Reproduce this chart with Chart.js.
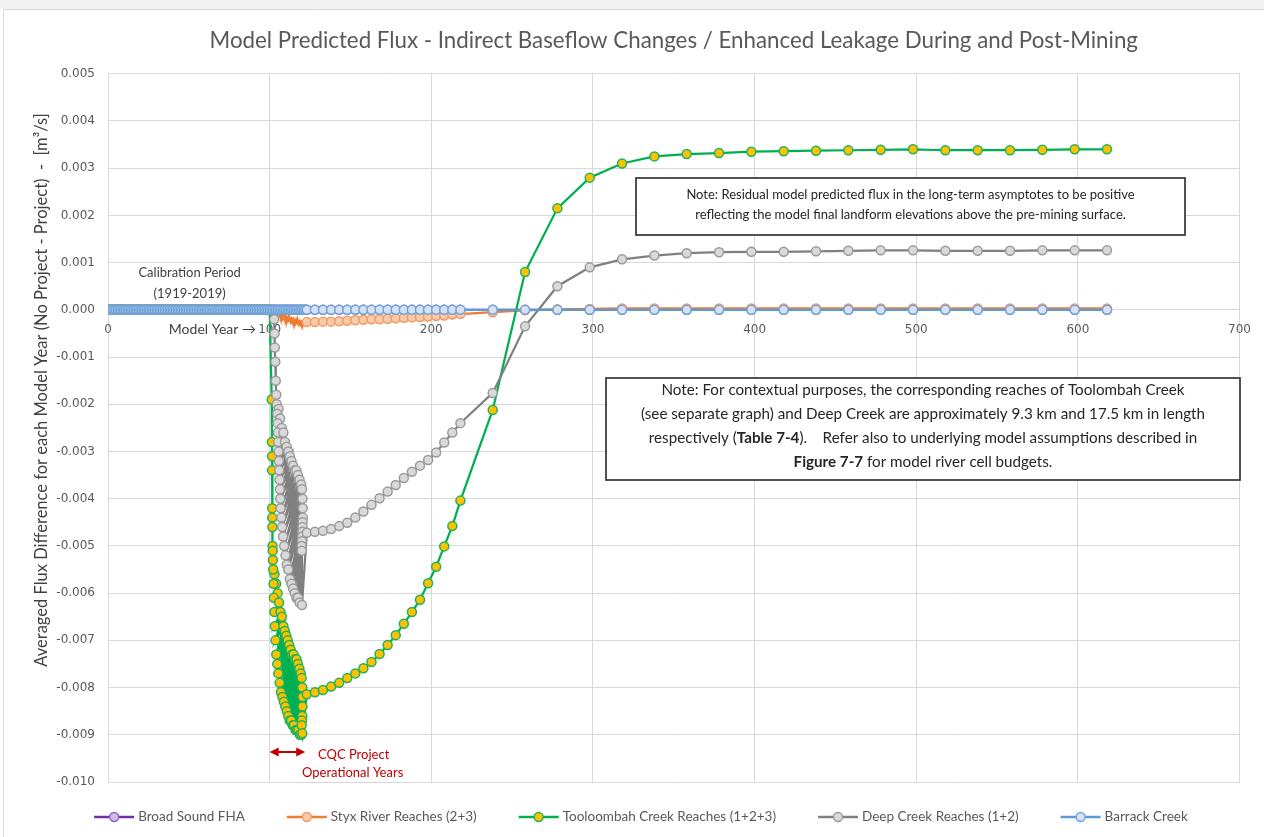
<!DOCTYPE html>
<html>
<head>
<meta charset="utf-8">
<title>Model Predicted Flux</title>
<script src="https://cdn.jsdelivr.net/npm/chart.js@4.4.1/dist/chart.umd.min.js"></script>
<style>
  html, body { margin: 0; padding: 0; background: #ffffff; overflow: hidden; }
  #wrap { width: 1264px; height: 837px; position: relative; }
</style>
</head>
<body>
<div id="wrap"><canvas id="chart" width="1264" height="837"></canvas></div>
<script>
// ---- Series names -------------------------------------------------------
const seriesNames = [
  'Broad Sound FHA',
  'Styx River Reaches (2+3)',
  'Tooloombah Creek Reaches (1+2+3)',
  'Deep Creek Reaches (1+2)',
  'Barrack Creek'
];

// ---- Calibration period (model years 0-100, 1919-2019): no difference ----
const calibrationYears = [
  0,1,2,3,4,5,6,7,8,9,10,11,12,13,14,15,16,17,18,19,
  20,21,22,23,24,25,26,27,28,29,30,31,32,33,34,35,36,37,38,39,
  40,41,42,43,44,45,46,47,48,49,50,51,52,53,54,55,56,57,58,59,
  60,61,62,63,64,65,66,67,68,69,70,71,72,73,74,75,76,77,78,79,
  80,81,82,83,84,85,86,87,88,89,90,91,92,93,94,95,96,97,98,99,100
];
const calibrationFlux = [
  0,0,0,0,0,0,0,0,0,0,0,0,0,0,0,0,0,0,0,0,
  0,0,0,0,0,0,0,0,0,0,0,0,0,0,0,0,0,0,0,0,
  0,0,0,0,0,0,0,0,0,0,0,0,0,0,0,0,0,0,0,0,
  0,0,0,0,0,0,0,0,0,0,0,0,0,0,0,0,0,0,0,0,
  0,0,0,0,0,0,0,0,0,0,0,0,0,0,0,0,0,0,0,0,0
];

// ---- Operational years (model output steps, 101-122) ---------------------
const operationYears = [101,102,103,104,105,106,107,108,109,110,111,112,113,114,115,116,117,118,119,120,121,122];
const broadSoundOperationFlux = [0,0,0,0,0,0,0,0,0,0,0,0,0,0,0,0,0,0,0,0,0,0];
const barrackOperationFlux    = [0,0,0,0,0,0,0,0,0,0,0,0,0,0,0,0,0,0,0,0,0,0];

const styxOperationYears = [
  101,102,103,103.5,104,104.5,105,105.5,106,106.5,107,107.5,108,108.5,109,109.5,110,110.5,
  111,111.5,112,112.5,113,113.5,114,114.5,115,115.5,116,116.5,117,117.5,118,118.5,119,119.5,
  120,120.5,121,121.5,122
];
const styxOperationFlux = [
  0,-0.00001,-0.00003,-0.00001,-0.00006,-0.00003,-0.00009,-0.00005,-0.00012,-0.00008,-0.00015,-0.0001,
  -0.00017,-0.00012,-0.00019,-0.00014,-0.00021,-0.00016,-0.00022,-0.00017,-0.00024,-0.00019,
  -0.00025,-0.0002,-0.00026,-0.00021,-0.00027,-0.00022,-0.00028,-0.00023,-0.00029,-0.00024,
  -0.0003,-0.00025,-0.0003,-0.00026,-0.00031,-0.00027,-0.00031,-0.00028,-0.0003
];

const tooloombahOperationYears = [
  101.3,101.4,101.5,101.5,101.6,101.6,101.7,101.8,101.9,102.0,
  103.0,102.2,104.0,102.4,104.9,102.6,105.8,102.9,106.7,103.2,107.6,103.6,108.5,104.1,
  109.4,104.7,110.3,105.4,111.2,106.2,112.1,107.0,113.0,107.9,113.9,108.8,114.8,109.7,
  115.7,110.6,116.6,111.5,117.5,112.4,118.4,113.3,119.2,114.2,119.8,115.1,120.2,116.0,
  120.3,116.9,120.3,117.8,120.2,118.7,120.0,119.6,119.8,120.2
];
const tooloombahOperationFlux = [
  -0.0019,-0.0028,-0.0031,-0.0034,-0.0042,-0.0044,-0.0046,-0.005,-0.0051,-0.0053,
  -0.0056,-0.0055,-0.0058,-0.0058,-0.006,-0.0061,-0.0062,-0.0064,-0.0064,-0.0067,-0.0065,-0.007,
  -0.0067,-0.0073,-0.0068,-0.0075,-0.0069,-0.0077,-0.007,-0.0079,-0.0071,-0.0081,-0.0072,-0.0082,
  -0.0073,-0.0083,-0.0073,-0.0084,-0.0074,-0.0085,-0.0074,-0.0086,-0.0075,-0.0087,-0.0076,-0.0087,
  -0.0077,-0.0088,-0.0078,-0.0088,-0.008,-0.0089,-0.0082,-0.0089,-0.0084,-0.0089,-0.0086,-0.009,
  -0.0087,-0.009,-0.0088,-0.00897
];

const deepOperationYears = [
  102.8,103.0,103.2,103.5,103.8,104.1,104.4,
  105.5,104.7,106.5,104.9,107.5,105.1,108.5,105.3,109.5,105.5,110.5,105.7,111.5,105.9,
  112.5,106.1,113.5,106.3,114.5,106.5,115.5,106.8,116.5,107.2,117.5,107.7,118.5,108.3,
  119.5,109.0,120.0,109.8,120.3,110.6,120.5,111.5,120.5,112.5,120.4,113.5,120.3,114.5,
  120.2,115.5,120.1,116.5,120.0,117.5,119.8,118.5,119.9,120.0
];
const deepOperationFlux = [
  -0.0002,-0.0005,-0.0008,-0.0011,-0.0015,-0.0018,-0.002,
  -0.0021,-0.0022,-0.0023,-0.0024,-0.0025,-0.0026,-0.0026,-0.0028,-0.0028,-0.003,-0.0029,-0.0032,
  -0.003,-0.0034,-0.0031,-0.0036,-0.0032,-0.0038,-0.0033,-0.004,-0.0034,-0.0042,-0.0034,-0.0044,
  -0.0035,-0.0046,-0.0036,-0.0048,-0.0037,-0.005,-0.0038,-0.0052,-0.004,-0.0054,-0.0042,-0.0055,
  -0.0044,-0.0057,-0.0045,-0.0058,-0.0046,-0.0059,-0.0047,-0.006,-0.0048,-0.0061,-0.0049,-0.0061,
  -0.005,-0.0062,-0.0051,-0.00625
];

// ---- Post-mining recovery (model years 123-618) --------------------------
const postYears = [
  123,128,133,138,143,148,153,158,163,168,173,178,183,188,193,198,203,208,213,218,
  238,258,278,298,318,338,358,378,398,418,438,458,478,498,518,538,558,578,598,618
];
const broadSoundPostFlux = [
  0,0,0,0,0,0,0,0,0,0,0,0,0,0,0,0,0,0,0,0,
  0,0,0,0,0,0,0,0,0,0,0,0,0,0,0,0,0,0,0,0
];
const styxPostFlux = [
  -0.00026,-0.00026,-0.00025,-0.00025,-0.00024,-0.00023,-0.00022,-0.00021,-0.0002,-0.0002,
  -0.00019,-0.00018,-0.00017,-0.00016,-0.00015,-0.00014,-0.00013,-0.00012,-0.0001,-0.00009,
  -0.00005,-0.00001,0.00001,0.00002,0.00003,0.00003,0.00003,0.00003,0.00003,0.00003,
  0.00003,0.00003,0.00003,0.00003,0.00003,0.00003,0.00003,0.00003,0.00003,0.00003
];
const tooloombahPostFlux = [
  -0.00814,-0.0081,-0.00805,-0.00798,-0.0079,-0.0078,-0.0077,-0.00759,-0.00746,-0.00729,
  -0.0071,-0.00689,-0.00665,-0.0064,-0.00614,-0.00579,-0.00544,-0.00501,-0.00458,-0.00404,
  -0.00212,0.0008,0.00215,0.0028,0.0031,0.00325,0.0033,0.00332,0.00335,0.00336,
  0.00337,0.00338,0.00339,0.0034,0.00338,0.00338,0.00338,0.00339,0.0034,0.0034
];
const deepPostFlux = [
  -0.00472,-0.0047,-0.00468,-0.00464,-0.00458,-0.00451,-0.0044,-0.00427,-0.00413,-0.00399,
  -0.00385,-0.00371,-0.00356,-0.00343,-0.0033,-0.00318,-0.00302,-0.00281,-0.0026,-0.0024,
  -0.00176,-0.00035,0.0005,0.0009,0.00107,0.00115,0.0012,0.00122,0.00123,0.00123,
  0.00124,0.00125,0.00126,0.00126,0.00125,0.00125,0.00125,0.00126,0.00126,0.00126
];
const barrackPostFlux = [
  0,0,0,0,0,0,0,0,0,0,0,0,0,0,0,0,0,0,0,0,
  0,0,0,0,0,0,0,0,0,0,0,0,0,0,0,0,0,0,0,0
];

// ---- Axis ticks ---------------------------------------------------------
const xTickValues = [0,100,200,300,400,500,600,700];
const yTickValues = [0.005,0.004,0.003,0.002,0.001,0,-0.001,-0.002,-0.003,-0.004,-0.005,-0.006,-0.007,-0.008,-0.009,-0.010];

const chartTitle = 'Model Predicted Flux - Indirect Baseflow Changes / Enhanced Leakage During and Post-Mining';
const yAxisTitle = 'Averaged Flux Difference for each Model Year (No Project - Project)  -  [m\u00B3/s]';

// ---- Helpers ------------------------------------------------------------
function toPoints(xs, ys) {
  return xs.map((x, i) => ({ x: x, y: ys[i] }));
}
function series(opYears, opFlux, postFlux) {
  return toPoints(calibrationYears, calibrationFlux)
    .concat(toPoints(opYears, opFlux))
    .concat(toPoints(postYears, postFlux));
}

const FONT = 'Lato, "Open Sans", sans-serif';
const TICK_FONT = '"DejaVu Sans", sans-serif';

const styles = [
  { line: '#7030A0', fill: '#CDBDE6', edge: '#8B62C6', order: 5 },
  { line: '#ED7D31', fill: '#F8CBAD', edge: '#F19B62', order: 4 },
  { line: '#00B050', fill: '#FFC000', edge: '#1DB35A', order: 3 },
  { line: '#808080', fill: '#D9D9D9', edge: '#9A9A9A', order: 2 },
  { line: '#5B9BD5', fill: '#D6E1F3', edge: '#6FA3DA', order: 1 }
];

const seriesData = [
  series(operationYears, broadSoundOperationFlux, broadSoundPostFlux),
  series(styxOperationYears, styxOperationFlux, styxPostFlux),
  series(tooloombahOperationYears, tooloombahOperationFlux, tooloombahPostFlux),
  series(deepOperationYears, deepOperationFlux, deepPostFlux),
  series(operationYears, barrackOperationFlux, barrackPostFlux)
];

const datasets = seriesNames.map((name, i) => ({
  label: name,
  data: seriesData[i],
  showLine: true,
  order: styles[i].order,
  borderColor: styles[i].line,
  backgroundColor: styles[i].line,
  borderWidth: 2.25,
  tension: 0,
  pointBackgroundColor: styles[i].fill,
  pointBorderColor: styles[i].edge,
  pointBorderWidth: 1.5,
  // the Styx river band during operations is drawn as a filled swathe, without markers
  pointRadius: i === 1
    ? (ctx) => { const p = ctx.raw; return (p && p.x > 100 && p.x < 123) ? 0 : 4.5; }
    : 4.5
}));

// ---- Drawing plugins ----------------------------------------------------
const framePlugin = {
  id: 'frame',
  beforeDraw(chart) {
    const ctx = chart.ctx;
    ctx.save();
    ctx.fillStyle = '#ffffff';
    ctx.fillRect(0, 0, chart.width, chart.height);
    ctx.fillStyle = '#f3f3f3';
    ctx.fillRect(0, 0, chart.width, 9);
    ctx.strokeStyle = '#d9d9d9';
    ctx.lineWidth = 1;
    ctx.beginPath();
    ctx.moveTo(3.5, chart.height);
    ctx.lineTo(3.5, 9.5);
    ctx.lineTo(chart.width, 9.5);
    ctx.stroke();
    ctx.restore();
  }
};

function richLine(ctx, segments, cx, y, size) {
  let total = 0;
  segments.forEach(([t, b]) => {
    ctx.font = (b ? 'bold ' : '') + size + 'px ' + FONT;
    total += ctx.measureText(t).width;
  });
  let x = cx - total / 2;
  ctx.textAlign = 'left';
  segments.forEach(([t, b]) => {
    ctx.font = (b ? 'bold ' : '') + size + 'px ' + FONT;
    ctx.fillText(t, x, y);
    x += ctx.measureText(t).width;
  });
}

function noteBox(ctx, left, top, right, bottom, lines, lineYs, size) {
  ctx.fillStyle = '#ffffff';
  ctx.fillRect(left, top, right - left, bottom - top);
  ctx.strokeStyle = '#3a3a3a';
  ctx.lineWidth = 1.75;
  ctx.strokeRect(left, top, right - left, bottom - top);
  ctx.fillStyle = '#262626';
  ctx.textBaseline = 'middle';
  const cx = (left + right) / 2;
  lines.forEach((segs, i) => richLine(ctx, segs, cx, lineYs[i], size));
}

const annotationPlugin = {
  id: 'annotations',
  afterDraw(chart) {
    const ctx = chart.ctx;
    const xs = chart.scales.x, ys = chart.scales.y;
    ctx.save();

    // y-axis title
    ctx.save();
    ctx.translate(42, 390);
    ctx.rotate(-Math.PI / 2);
    ctx.fillStyle = '#404040';
    ctx.font = '16.5px ' + FONT;
    ctx.textAlign = 'center';
    ctx.textBaseline = 'middle';
    ctx.fillText(yAxisTitle, 0, 0);
    ctx.restore();

    // calibration period label
    ctx.fillStyle = '#404040';
    ctx.font = '13px ' + FONT;
    ctx.textAlign = 'center';
    ctx.textBaseline = 'middle';
    ctx.fillText('Calibration Period', xs.getPixelForValue(50.5), 273);
    ctx.fillText('(1919-2019)', xs.getPixelForValue(50.5), 294);

    // model year pointer next to the x tick labels
    ctx.font = '14px ' + FONT;
    ctx.textAlign = 'right';
    ctx.fillText('Model Year \u2192', xs.getPixelForValue(91.5), ys.getPixelForValue(0) + 20);

    // operational years arrow
    const ay = 752;
    const ax1 = xs.getPixelForValue(100), ax2 = xs.getPixelForValue(122);
    ctx.strokeStyle = '#C00000';
    ctx.fillStyle = '#C00000';
    ctx.lineWidth = 2;
    ctx.beginPath();
    ctx.moveTo(ax1 + 6, ay);
    ctx.lineTo(ax2 - 6, ay);
    ctx.stroke();
    ctx.beginPath();
    ctx.moveTo(ax1, ay); ctx.lineTo(ax1 + 9, ay - 4.5); ctx.lineTo(ax1 + 9, ay + 4.5); ctx.closePath();
    ctx.moveTo(ax2, ay); ctx.lineTo(ax2 - 9, ay - 4.5); ctx.lineTo(ax2 - 9, ay + 4.5); ctx.closePath();
    ctx.fill();
    ctx.font = '13px ' + FONT;
    ctx.textAlign = 'left';
    ctx.fillText('CQC Project', 318, 755);
    ctx.fillText('Operational Years', 302, 773);

    // note boxes
    noteBox(ctx, 636, 178, 1185, 235, [
      [['Note: Residual model predicted flux in the long-term asymptotes to be positive', false]],
      [['reflecting the model final landform elevations above the pre-mining surface.', false]]
    ], [195, 215], 13);

    noteBox(ctx, 606, 378, 1240, 480, [
      [['Note: For contextual purposes, the corresponding reaches of Toolombah Creek', false]],
      [['(see separate graph) and Deep Creek are approximately 9.3 km and 17.5 km in length', false]],
      [['respectively (', false], ['Table 7-4', true], [').    Refer also to underlying model assumptions described in', false]],
      [['Figure 7-7', true], [' for model river cell budgets.', false]]
    ], [390, 414, 438, 462], 15.2);

    ctx.restore();
  }
};

const legendPlugin = {
  id: 'seriesLegend',
  afterDraw(chart) {
    const ctx = chart.ctx;
    ctx.save();
    ctx.font = '13.5px ' + FONT;
    const sym = 40, textGap = 4, gap = 42, y = 817;
    const items = chart.data.datasets.map(ds => ({ ds, w: sym + textGap + ctx.measureText(ds.label).width }));
    const total = items.reduce((a, b) => a + b.w, 0) + gap * (items.length - 1);
    let x = 641 - total / 2;
    items.forEach(({ ds, w }) => {
      ctx.strokeStyle = ds.borderColor;
      ctx.lineWidth = 2.5;
      ctx.beginPath();
      ctx.moveTo(x, y);
      ctx.lineTo(x + sym, y);
      ctx.stroke();
      ctx.beginPath();
      ctx.arc(x + sym / 2, y, 4.5, 0, Math.PI * 2);
      ctx.fillStyle = ds.pointBackgroundColor;
      ctx.fill();
      ctx.lineWidth = 1.4;
      ctx.strokeStyle = ds.pointBorderColor;
      ctx.stroke();
      ctx.fillStyle = '#595959';
      ctx.textAlign = 'left';
      ctx.textBaseline = 'middle';
      ctx.fillText(ds.label, x + sym + textGap, y);
      x += w + gap;
    });
    ctx.restore();
  }
};

function build() {
  new Chart(document.getElementById('chart'), {
    type: 'scatter',
    data: { datasets: datasets },
    plugins: [framePlugin, annotationPlugin, legendPlugin],
    options: {
      responsive: false,
      animation: false,
      events: [],
      layout: { padding: { left: 0, right: 20, top: 0, bottom: 55 } },
      plugins: {
        legend: { display: false },
        tooltip: { enabled: false },
        title: {
          display: true,
          fullSize: false,
          text: chartTitle,
          color: '#595959',
          font: { family: FONT, size: 22.3, weight: 'normal', lineHeight: 1.2 },
          padding: { top: 27, bottom: 20 }
        }
      },
      scales: {
        x: {
          type: 'linear',
          position: { y: 0 },
          min: 0,
          max: 700,
          afterBuildTicks: (scale) => { scale.ticks = xTickValues.map(v => ({ value: v })); },
          ticks: { color: '#595959', font: { family: TICK_FONT, size: 12 }, padding: 13, maxRotation: 0 },
          grid: { color: '#d9d9d9', lineWidth: 1, drawTicks: false },
          border: { display: false }
        },
        y: {
          type: 'linear',
          min: -0.010,
          max: 0.005,
          afterBuildTicks: (scale) => { scale.ticks = yTickValues.map(v => ({ value: v })); },
          afterFit: (scale) => { scale.width = 108; },
          ticks: {
            color: '#595959',
            font: { family: TICK_FONT, size: 12 },
            padding: 13,
            callback: (v) => (Math.abs(v) < 1e-9 ? 0 : v).toFixed(3)
          },
          grid: { color: '#d9d9d9', lineWidth: 1, drawTicks: false },
          border: { display: false }
        }
      }
    }
  });
}

const fontLoads = ['13px Lato', 'bold 13px Lato', '12px "DejaVu Sans"'].map(f => document.fonts.load(f).catch(() => null));
Promise.race([Promise.all(fontLoads), new Promise(r => setTimeout(r, 1500))]).then(build);
</script>
</body>
</html>
